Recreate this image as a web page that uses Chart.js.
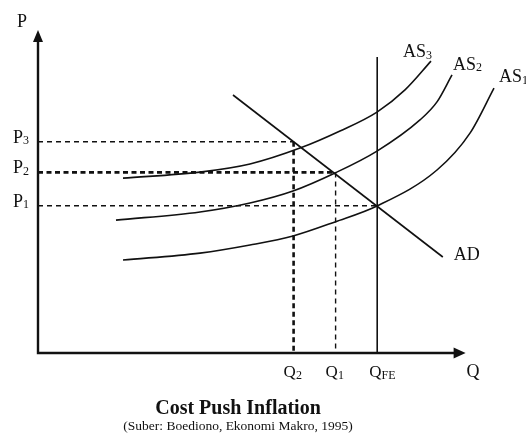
<!DOCTYPE html>
<html>
<head>
<meta charset="utf-8">
<script src="https://cdn.jsdelivr.net/npm/chart.js@4"></script>
<style>
  html, body { margin: 0; padding: 0; background: #fff; }
</style>
</head>
<body>
<canvas id="c" width="526" height="435"></canvas>
<script>
// values in diagram units (output on x, price level on y)
const as1X = [21.25, 40.5, 53, 63.75, 74.25, 84.75, 99.75, 108, 114];
const as1Y = [31, 33.3, 36, 39, 43.7, 49, 61, 73.3, 88.3];
const as2X = [19.5, 40.5, 53, 63.75, 74.25, 84.75, 95.5, 99.75, 103.5];
const as2Y = [44.3, 47, 50, 54, 60, 67.3, 77.7, 83.7, 92.7];
const as3X = [21.25, 40.5, 53, 65.5, 75.5, 84.75, 91.75, 98.25];
const as3Y = [58.3, 60.3, 63, 68.3, 74, 80.3, 87.7, 97.3];
const adX = [48.75, 101.2];
const adY = [86, 32];

const priceLevels = [49.1, 60.2, 70.4];   // P1, P2, P3
const outputLevels = [84.8, 74.4, 63.9];  // QFE, Q1, Q2
const qfeTop = 98.7;
const axisEnds = { x: 106.9, y: 107.7 };

const priceSubs = ['1', '2', '3'];
const outputSubs = ['FE', '1', '2'];
const curveNames = ['AS', 'AS', 'AS'];
const curveSubs = ['1', '2', '3'];

const ink = '#111';
const serif = '"Liberation Serif", "Times New Roman", serif';

const pts = (xs, ys) => xs.map((v, i) => ({ x: v, y: ys[i] }));

const curve = (data) => ({
  data, showLine: true, borderColor: ink, borderWidth: 1.6, pointRadius: 0,
  cubicInterpolationMode: 'monotone', clip: false
});

const guide = (data, bold) => ({
  data, showLine: true, borderColor: ink, pointRadius: 0, clip: false,
  borderWidth: bold ? 2.6 : 1.4, borderDash: bold ? [5, 3.5] : [5, 4]
});

const datasets = [
  curve(pts(as1X, as1Y)),
  curve(pts(as2X, as2Y)),
  curve(pts(as3X, as3Y)),
  { ...curve(pts(adX, adY)), cubicInterpolationMode: 'default' },
  { data: [{ x: outputLevels[0], y: 0 }, { x: outputLevels[0], y: qfeTop }], showLine: true,
    borderColor: ink, borderWidth: 1.6, pointRadius: 0, clip: false },
  guide([{ x: 0, y: priceLevels[0] }, { x: outputLevels[0], y: priceLevels[0] }], false),
  guide([{ x: 0, y: priceLevels[1] }, { x: outputLevels[1], y: priceLevels[1] }], true),
  guide([{ x: 0, y: priceLevels[2] }, { x: outputLevels[2], y: priceLevels[2] }], false),
  guide([{ x: outputLevels[1], y: priceLevels[1] }, { x: outputLevels[1], y: 0 }], false),
  guide([{ x: outputLevels[2], y: priceLevels[2] }, { x: outputLevels[2], y: 0 }], true)
];

function subText(ctx, main, sub, x, y, size) {
  ctx.font = size + 'px ' + serif;
  ctx.fillText(main, x, y);
  const w = ctx.measureText(main).width;
  ctx.font = Math.round(size * 0.68) + 'px ' + serif;
  ctx.fillText(sub, x + w, y + 1.5);
}

const diagramPlugin = {
  id: 'diagram',
  afterDatasetsDraw(chart) {
    const { ctx, scales: { x, y } } = chart;
    const x0 = x.getPixelForValue(0), y0 = y.getPixelForValue(0);
    const yTop = y.getPixelForValue(axisEnds.y), xEnd = x.getPixelForValue(axisEnds.x);
    ctx.save();
    ctx.strokeStyle = ink;
    ctx.fillStyle = ink;
    ctx.lineWidth = 2.4;
    ctx.beginPath();
    ctx.moveTo(x0, yTop + 10);
    ctx.lineTo(x0, y0);
    ctx.lineTo(xEnd - 10, y0);
    ctx.stroke();
    ctx.beginPath();
    ctx.moveTo(x0, yTop);
    ctx.lineTo(x0 - 5, yTop + 12);
    ctx.lineTo(x0 + 5, yTop + 12);
    ctx.closePath();
    ctx.fill();
    ctx.beginPath();
    ctx.moveTo(xEnd, y0);
    ctx.lineTo(xEnd - 12, y0 - 5.5);
    ctx.lineTo(xEnd - 12, y0 + 5.5);
    ctx.closePath();
    ctx.fill();

    ctx.textBaseline = 'alphabetic';
    ctx.textAlign = 'left';
    ctx.font = '18px ' + serif;
    ctx.fillText('P', x0 - 21, yTop - 3);
    ctx.fillText('Q', xEnd + 1, y0 + 24);

    priceLevels.forEach((p, i) => subText(ctx, 'P', priceSubs[i], x0 - 25, y.getPixelForValue(p) + 1, 18));
    outputLevels.forEach((q, i) => subText(ctx, 'Q', outputSubs[i], x.getPixelForValue(q) - (i === 0 ? 8 : 10), y0 + 24, 17));

    const ends = [[as1X, as1Y, 5, -6], [as2X, as2Y, 1, -5], [as3X, as3Y, -28, -4]];
    ends.forEach(([xs, ys, dx, dy], i) => {
      const n = xs.length - 1;
      subText(ctx, curveNames[i], curveSubs[i], x.getPixelForValue(xs[n]) + dx, y.getPixelForValue(ys[n]) + dy, 18);
    });
    ctx.font = '18px ' + serif;
    ctx.fillText('AD', x.getPixelForValue(adX[1]) + 11, y.getPixelForValue(adY[1]) + 3);

    ctx.textAlign = 'center';
    ctx.font = 'bold 20px ' + serif;
    ctx.fillText('Cost Push Inflation', x0 + 200, y0 + 61);
    ctx.font = '13.5px ' + serif;
    ctx.fillText('(Suber: Boediono, Ekonomi Makro, 1995)', x0 + 200, y0 + 77);
    ctx.restore();
  }
};

new Chart(document.getElementById('c'), {
  type: 'scatter',
  data: { datasets },
  options: {
    responsive: false,
    animation: false,
    layout: { padding: { left: 38, right: 0, top: 23, bottom: 82 } },
    scales: {
      x: { type: 'linear', min: 0, max: 122, display: false },
      y: { type: 'linear', min: 0, max: 110, display: false }
    },
    plugins: { legend: { display: false }, tooltip: { enabled: false } }
  },
  plugins: [diagramPlugin]
});
</script>
</body>
</html>
